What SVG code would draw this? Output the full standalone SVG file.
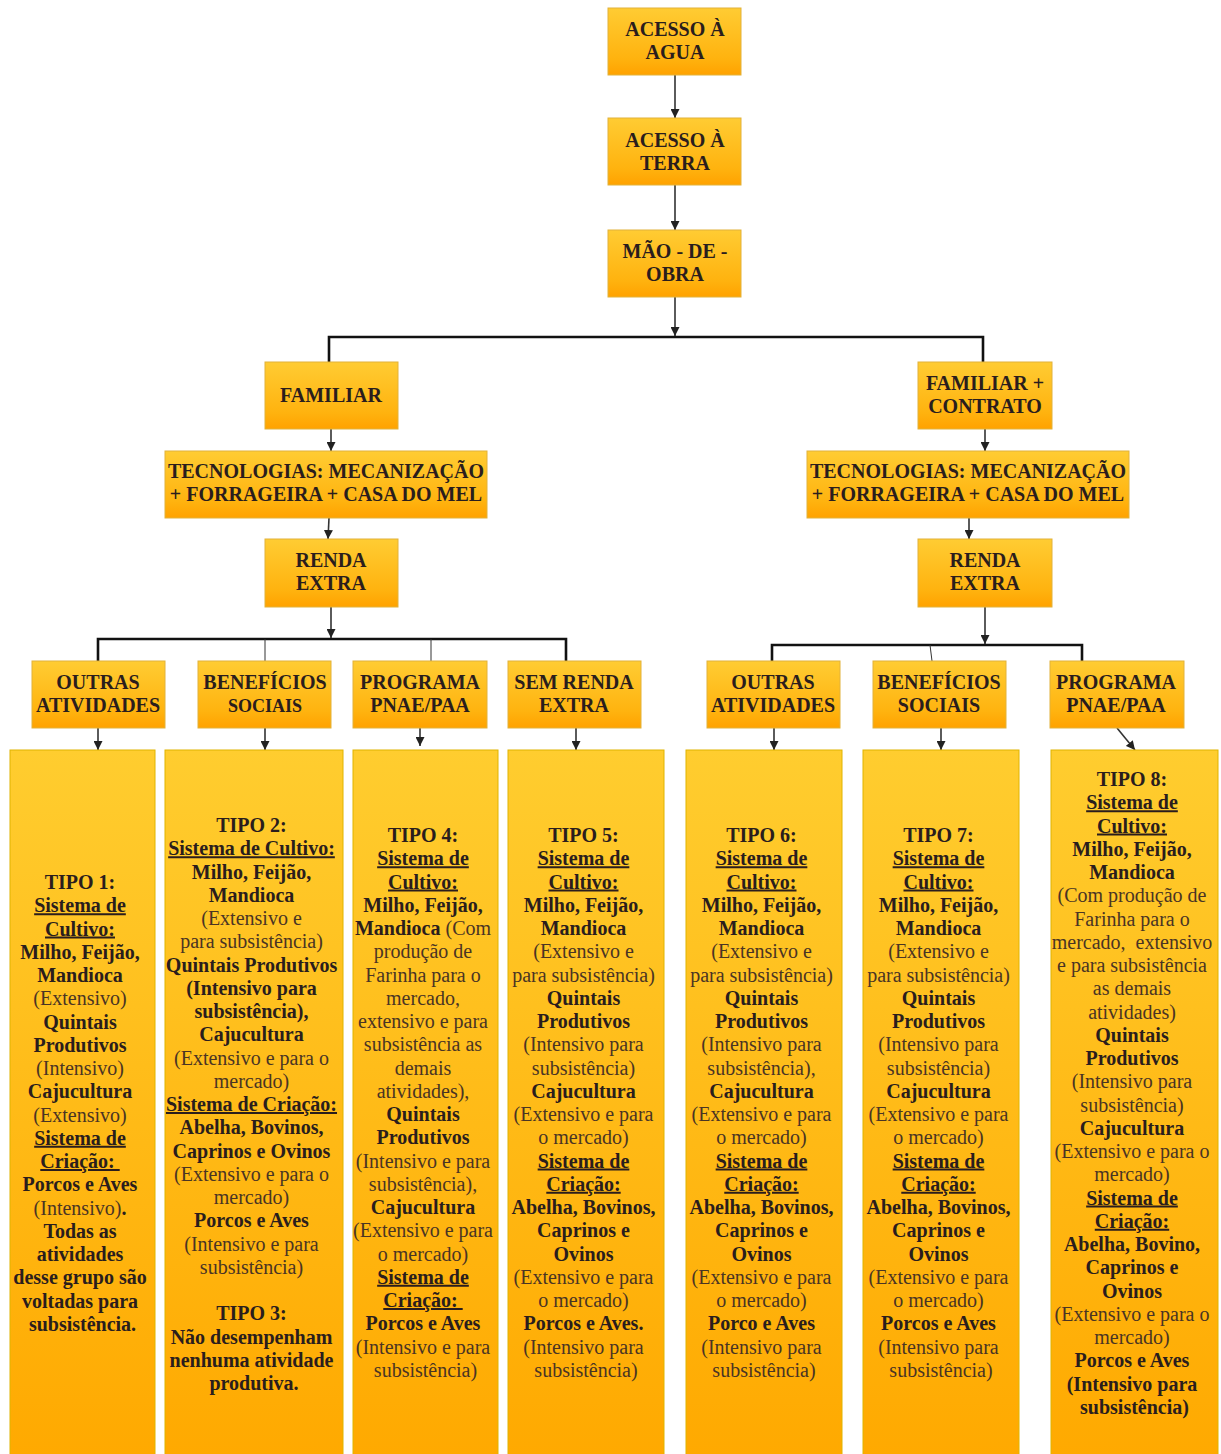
<svg xmlns="http://www.w3.org/2000/svg" width="1221" height="1454" viewBox="0 0 1221 1454" font-family="Liberation Serif, DejaVu Serif, serif">
<defs>
<linearGradient id="gBox" x1="0" y1="0" x2="0" y2="1">
<stop offset="0" stop-color="#ffcc33"/>
<stop offset="0.75" stop-color="#ffb30f"/>
<stop offset="1" stop-color="#ffa200"/>
</linearGradient>
<linearGradient id="gCol" x1="0" y1="0" x2="0" y2="1">
<stop offset="0" stop-color="#ffcd2f"/>
<stop offset="1" stop-color="#ffa900"/>
</linearGradient>
<marker id="arr" viewBox="0 0 10 10" refX="10" refY="5" markerWidth="9" markerHeight="9" markerUnits="userSpaceOnUse" orient="auto">
<path d="M0,0 L10,5 L0,10 z" fill="#222"/>
</marker>
</defs>
<style>
.box{fill:url(#gBox);stroke:#e2b23a;stroke-width:1}
.col{fill:url(#gCol);stroke:#e0b400;stroke-width:1}
text{font-family:'Liberation Serif', serif;font-size:20px;text-anchor:middle}
.h{font-weight:bold;fill:#2a1d1d}
.t{font-weight:bold;fill:#2a1d1d}
.r{font-weight:normal;fill:#4a3424}
.u{text-decoration:underline}
.c{fill:none;stroke:#333;stroke-width:1.6}
.k{fill:none;stroke:#111;stroke-width:2.6}
.n{fill:none;stroke:#333;stroke-width:1}
</style>
<rect width="1221" height="1454" fill="#ffffff"/>

<g id="connectors">
<line class="c" x1="675" y1="75" x2="675" y2="118" marker-end="url(#arr)"/>
<line class="c" x1="675" y1="185" x2="675" y2="230" marker-end="url(#arr)"/>
<line class="c" x1="675" y1="297" x2="675" y2="336" marker-end="url(#arr)"/>
<polyline class="k" points="329,362 329,337 983,337 983,362"/>
<line class="c" x1="331" y1="429" x2="331" y2="451" marker-end="url(#arr)"/>
<line class="c" x1="329" y1="518" x2="328" y2="539" marker-end="url(#arr)"/>
<line class="c" x1="331" y1="607" x2="331" y2="638" marker-end="url(#arr)"/>
<polyline class="k" points="98,661 98,639 566,639 566,661"/>
<line class="n" x1="265" y1="639" x2="265" y2="661"/>
<line class="n" x1="431" y1="639" x2="431" y2="661"/>
<line class="c" x1="98" y1="728" x2="98" y2="750" marker-end="url(#arr)"/>
<line class="c" x1="265" y1="728" x2="265" y2="750" marker-end="url(#arr)"/>
<line class="c" x1="420" y1="728" x2="420" y2="746" marker-end="url(#arr)"/>
<line class="c" x1="576" y1="728" x2="576" y2="750" marker-end="url(#arr)"/>
<line class="c" x1="985" y1="429" x2="985" y2="451" marker-end="url(#arr)"/>
<line class="c" x1="969" y1="518" x2="969" y2="539" marker-end="url(#arr)"/>
<line class="c" x1="985" y1="607" x2="985" y2="644" marker-end="url(#arr)"/>
<polyline class="k" points="772,661 772,645 1082,645 1082,661"/>
<line class="n" x1="930" y1="645" x2="932" y2="661"/>
<line class="c" x1="774" y1="728" x2="774" y2="750" marker-end="url(#arr)"/>
<line class="c" x1="941" y1="728" x2="941" y2="750" marker-end="url(#arr)"/>
<line class="c" x1="1117" y1="728" x2="1135" y2="750" marker-end="url(#arr)"/>
</g>

<g id="n-agua"><rect class="box" x="608" y="8" width="133" height="67"/>
<text class="h" x="675" y="36">ACESSO À</text><text class="h" x="675" y="59">AGUA</text></g>
<g id="n-terra"><rect class="box" x="608" y="118" width="133" height="67"/>
<text class="h" x="675" y="147">ACESSO À</text><text class="h" x="675" y="170">TERRA</text></g>
<g id="n-mao"><rect class="box" x="608" y="230" width="133" height="67"/>
<text class="h" x="675" y="258">MÃO - DE -</text><text class="h" x="675" y="281">OBRA</text></g>

<g id="n-familiar"><rect class="box" x="265" y="362" width="133" height="67"/>
<text class="h" x="331" y="402">FAMILIAR</text></g>
<g id="n-tec1"><rect class="box" x="165" y="451" width="322" height="67"/>
<text class="h" x="326" y="478">TECNOLOGIAS: MECANIZAÇÃO</text><text class="h" x="326" y="501">+ FORRAGEIRA + CASA DO MEL</text></g>
<g id="n-renda1"><rect class="box" x="265" y="539" width="133" height="68"/>
<text class="h" x="331" y="567">RENDA</text><text class="h" x="331" y="590">EXTRA</text></g>

<g id="n-famcon"><rect class="box" x="918" y="362" width="134" height="67"/>
<text class="h" x="985" y="390">FAMILIAR +</text><text class="h" x="985" y="413">CONTRATO</text></g>
<g id="n-tec2"><rect class="box" x="807" y="451" width="322" height="67"/>
<text class="h" x="968" y="478">TECNOLOGIAS: MECANIZAÇÃO</text><text class="h" x="968" y="501">+ FORRAGEIRA + CASA DO MEL</text></g>
<g id="n-renda2"><rect class="box" x="918" y="539" width="134" height="68"/>
<text class="h" x="985" y="567">RENDA</text><text class="h" x="985" y="590">EXTRA</text></g>

<g id="n-outras1"><rect class="box" x="32" y="661" width="133" height="67"/>
<text class="h" x="98" y="689">OUTRAS</text><text class="h" x="98" y="712">ATIVIDADES</text></g>
<g id="n-benef1"><rect class="box" x="198" y="661" width="133" height="67"/>
<text class="h" x="265" y="689">BENEFÍCIOS</text><text class="h" x="265" y="712" style="font-size:18px">SOCIAIS</text></g>
<g id="n-prog1"><rect class="box" x="353" y="661" width="134" height="67"/>
<text class="h" x="420" y="689">PROGRAMA</text><text class="h" x="420" y="712">PNAE/PAA</text></g>
<g id="n-sem"><rect class="box" x="508" y="661" width="133" height="67"/>
<text class="h" x="574" y="689">SEM RENDA</text><text class="h" x="574" y="712">EXTRA</text></g>

<g id="n-outras2"><rect class="box" x="707" y="661" width="133" height="67"/>
<text class="h" x="773" y="689">OUTRAS</text><text class="h" x="773" y="712">ATIVIDADES</text></g>
<g id="n-benef2"><rect class="box" x="873" y="661" width="133" height="67"/>
<text class="h" x="939" y="689">BENEFÍCIOS</text><text class="h" x="939" y="712">SOCIAIS</text></g>
<g id="n-prog2"><rect class="box" x="1050" y="661" width="134" height="67"/>
<text class="h" x="1116" y="689">PROGRAMA</text><text class="h" x="1116" y="712">PNAE/PAA</text></g>

<g id="n-tipo1"><rect class="col" x="10" y="750" width="145" height="710"/>
<text x="82.5" y="889">
<tspan class="t" x="82.5" dy="0">TIPO 1:</tspan>
<tspan class="t u" x="82.5" dy="23.25">Sistema de</tspan>
<tspan class="t u" x="82.5" dy="23.25">Cultivo:</tspan>
<tspan class="t" x="82.5" dy="23.25">Milho, Feijão,</tspan>
<tspan class="t" x="82.5" dy="23.25">Mandioca</tspan>
<tspan class="r" x="82.5" dy="23.25">(Extensivo)</tspan>
<tspan class="t" x="82.5" dy="23.25">Quintais</tspan>
<tspan class="t" x="82.5" dy="23.25">Produtivos</tspan>
<tspan class="r" x="82.5" dy="23.25">(Intensivo)</tspan>
<tspan class="t" x="82.5" dy="23.25">Cajucultura</tspan>
<tspan class="r" x="82.5" dy="23.25">(Extensivo)</tspan>
<tspan class="t u" x="82.5" dy="23.25">Sistema de</tspan>
<tspan class="t u" x="82.5" dy="23.25">Criação:&#160;</tspan>
<tspan class="t" x="82.5" dy="23.25">Porcos e Aves</tspan>
<tspan x="82.5" dy="23.25"><tspan class="r">(Intensivo)</tspan><tspan class="t">.</tspan></tspan>
<tspan class="t" x="82.5" dy="23.25">Todas as</tspan>
<tspan class="t" x="82.5" dy="23.25">atividades</tspan>
<tspan class="t" x="82.5" dy="23.25">desse grupo são</tspan>
<tspan class="t" x="82.5" dy="23.25">voltadas para</tspan>
<tspan class="t" x="82.5" dy="23.25">subsistência.</tspan>
</text></g>

<g id="n-tipo23"><rect class="col" x="165" y="750" width="178" height="710"/>
<text x="254" y="832">
<tspan class="t" x="254" dy="0">TIPO 2:</tspan>
<tspan class="t u" x="254" dy="23.25">Sistema de Cultivo:</tspan>
<tspan class="t" x="254" dy="23.25">Milho, Feijão,</tspan>
<tspan class="t" x="254" dy="23.25">Mandioca</tspan>
<tspan class="r" x="254" dy="23.25">(Extensivo e</tspan>
<tspan class="r" x="254" dy="23.25">para subsistência)</tspan>
<tspan class="t" x="254" dy="23.25">Quintais Produtivos</tspan>
<tspan class="t" x="254" dy="23.25">(Intensivo para</tspan>
<tspan class="t" x="254" dy="23.25">subsistência),</tspan>
<tspan class="t" x="254" dy="23.25">Cajucultura</tspan>
<tspan class="r" x="254" dy="23.25">(Extensivo e para o</tspan>
<tspan class="r" x="254" dy="23.25">mercado)</tspan>
<tspan class="t u" x="254" dy="23.25">Sistema de Criação:</tspan>
<tspan class="t" x="254" dy="23.25">Abelha, Bovinos,</tspan>
<tspan class="t" x="254" dy="23.25">Caprinos e Ovinos</tspan>
<tspan class="r" x="254" dy="23.25">(Extensivo e para o</tspan>
<tspan class="r" x="254" dy="23.25">mercado)</tspan>
<tspan class="t" x="254" dy="23.25">Porcos e Aves</tspan>
<tspan class="r" x="254" dy="23.25">(Intensivo e para</tspan>
<tspan class="r" x="254" dy="23.25">subsistência)</tspan>
<tspan class="t" x="254" dy="46.5">TIPO 3:</tspan>
<tspan class="t" x="254" dy="23.25">Não desempenham</tspan>
<tspan class="t" x="254" dy="23.25">nenhuma atividade</tspan>
<tspan class="t" x="254" dy="23.25">produtiva.</tspan>
</text></g>

<g id="n-tipo4"><rect class="col" x="353" y="750" width="145" height="710"/>
<text x="425.5" y="842">
<tspan class="t" x="425.5" dy="0">TIPO 4:</tspan>
<tspan class="t u" x="425.5" dy="23.25">Sistema de</tspan>
<tspan class="t u" x="425.5" dy="23.25">Cultivo:</tspan>
<tspan class="t" x="425.5" dy="23.25">Milho, Feijão,</tspan>
<tspan x="425.5" dy="23.25"><tspan class="t">Mandioca</tspan><tspan class="r"> (Com</tspan></tspan>
<tspan class="r" x="425.5" dy="23.25">produção de</tspan>
<tspan class="r" x="425.5" dy="23.25">Farinha para o</tspan>
<tspan class="r" x="425.5" dy="23.25">mercado,</tspan>
<tspan class="r" x="425.5" dy="23.25">extensivo e para</tspan>
<tspan class="r" x="425.5" dy="23.25">subsistência as</tspan>
<tspan class="r" x="425.5" dy="23.25">demais</tspan>
<tspan class="r" x="425.5" dy="23.25">atividades),</tspan>
<tspan class="t" x="425.5" dy="23.25">Quintais</tspan>
<tspan class="t" x="425.5" dy="23.25">Produtivos</tspan>
<tspan class="r" x="425.5" dy="23.25">(Intensivo e para</tspan>
<tspan class="r" x="425.5" dy="23.25">subsistência),</tspan>
<tspan class="t" x="425.5" dy="23.25">Cajucultura</tspan>
<tspan class="r" x="425.5" dy="23.25">(Extensivo e para</tspan>
<tspan class="r" x="425.5" dy="23.25">o mercado)</tspan>
<tspan class="t u" x="425.5" dy="23.25">Sistema de</tspan>
<tspan class="t u" x="425.5" dy="23.25">Criação:&#160;</tspan>
<tspan class="t" x="425.5" dy="23.25">Porcos e Aves</tspan>
<tspan class="r" x="425.5" dy="23.25">(Intensivo e para</tspan>
<tspan class="r" x="425.5" dy="23.25">subsistência)</tspan>
</text></g>

<g id="n-tipo5"><rect class="col" x="508" y="750" width="156" height="710"/>
<text x="586" y="842">
<tspan class="t" x="586" dy="0">TIPO 5:</tspan>
<tspan class="t u" x="586" dy="23.25">Sistema de</tspan>
<tspan class="t u" x="586" dy="23.25">Cultivo:</tspan>
<tspan class="t" x="586" dy="23.25">Milho, Feijão,</tspan>
<tspan class="t" x="586" dy="23.25">Mandioca</tspan>
<tspan class="r" x="586" dy="23.25">(Extensivo e</tspan>
<tspan class="r" x="586" dy="23.25">para subsistência)</tspan>
<tspan class="t" x="586" dy="23.25">Quintais</tspan>
<tspan class="t" x="586" dy="23.25">Produtivos</tspan>
<tspan class="r" x="586" dy="23.25">(Intensivo para</tspan>
<tspan class="r" x="586" dy="23.25">subsistência)</tspan>
<tspan class="t" x="586" dy="23.25">Cajucultura</tspan>
<tspan class="r" x="586" dy="23.25">(Extensivo e para</tspan>
<tspan class="r" x="586" dy="23.25">o mercado)</tspan>
<tspan class="t u" x="586" dy="23.25">Sistema de</tspan>
<tspan class="t u" x="586" dy="23.25">Criação:</tspan>
<tspan class="t" x="586" dy="23.25">Abelha, Bovinos,</tspan>
<tspan class="t" x="586" dy="23.25">Caprinos e</tspan>
<tspan class="t" x="586" dy="23.25">Ovinos</tspan>
<tspan class="r" x="586" dy="23.25">(Extensivo e para</tspan>
<tspan class="r" x="586" dy="23.25">o mercado)</tspan>
<tspan class="t" x="586" dy="23.25">Porcos e Aves.</tspan>
<tspan class="r" x="586" dy="23.25">(Intensivo para</tspan>
<tspan class="r" x="586" dy="23.25">subsistência)</tspan>
</text></g>

<g id="n-tipo6"><rect class="col" x="686" y="750" width="156" height="710"/>
<text x="764" y="842">
<tspan class="t" x="764" dy="0">TIPO 6:</tspan>
<tspan class="t u" x="764" dy="23.25">Sistema de</tspan>
<tspan class="t u" x="764" dy="23.25">Cultivo:</tspan>
<tspan class="t" x="764" dy="23.25">Milho, Feijão,</tspan>
<tspan class="t" x="764" dy="23.25">Mandioca</tspan>
<tspan class="r" x="764" dy="23.25">(Extensivo e</tspan>
<tspan class="r" x="764" dy="23.25">para subsistência)</tspan>
<tspan class="t" x="764" dy="23.25">Quintais</tspan>
<tspan class="t" x="764" dy="23.25">Produtivos</tspan>
<tspan class="r" x="764" dy="23.25">(Intensivo para</tspan>
<tspan class="r" x="764" dy="23.25">subsistência),</tspan>
<tspan class="t" x="764" dy="23.25">Cajucultura</tspan>
<tspan class="r" x="764" dy="23.25">(Extensivo e para</tspan>
<tspan class="r" x="764" dy="23.25">o mercado)</tspan>
<tspan class="t u" x="764" dy="23.25">Sistema de</tspan>
<tspan class="t u" x="764" dy="23.25">Criação:</tspan>
<tspan class="t" x="764" dy="23.25">Abelha, Bovinos,</tspan>
<tspan class="t" x="764" dy="23.25">Caprinos e</tspan>
<tspan class="t" x="764" dy="23.25">Ovinos</tspan>
<tspan class="r" x="764" dy="23.25">(Extensivo e para</tspan>
<tspan class="r" x="764" dy="23.25">o mercado)</tspan>
<tspan class="t" x="764" dy="23.25">Porco e Aves</tspan>
<tspan class="r" x="764" dy="23.25">(Intensivo para</tspan>
<tspan class="r" x="764" dy="23.25">subsistência)</tspan>
</text></g>

<g id="n-tipo7"><rect class="col" x="863" y="750" width="156" height="710"/>
<text x="941" y="842">
<tspan class="t" x="941" dy="0">TIPO 7:</tspan>
<tspan class="t u" x="941" dy="23.25">Sistema de</tspan>
<tspan class="t u" x="941" dy="23.25">Cultivo:</tspan>
<tspan class="t" x="941" dy="23.25">Milho, Feijão,</tspan>
<tspan class="t" x="941" dy="23.25">Mandioca</tspan>
<tspan class="r" x="941" dy="23.25">(Extensivo e</tspan>
<tspan class="r" x="941" dy="23.25">para subsistência)</tspan>
<tspan class="t" x="941" dy="23.25">Quintais</tspan>
<tspan class="t" x="941" dy="23.25">Produtivos</tspan>
<tspan class="r" x="941" dy="23.25">(Intensivo para</tspan>
<tspan class="r" x="941" dy="23.25">subsistência)</tspan>
<tspan class="t" x="941" dy="23.25">Cajucultura</tspan>
<tspan class="r" x="941" dy="23.25">(Extensivo e para</tspan>
<tspan class="r" x="941" dy="23.25">o mercado)</tspan>
<tspan class="t u" x="941" dy="23.25">Sistema de</tspan>
<tspan class="t u" x="941" dy="23.25">Criação:</tspan>
<tspan class="t" x="941" dy="23.25">Abelha, Bovinos,</tspan>
<tspan class="t" x="941" dy="23.25">Caprinos e</tspan>
<tspan class="t" x="941" dy="23.25">Ovinos</tspan>
<tspan class="r" x="941" dy="23.25">(Extensivo e para</tspan>
<tspan class="r" x="941" dy="23.25">o mercado)</tspan>
<tspan class="t" x="941" dy="23.25">Porcos e Aves</tspan>
<tspan class="r" x="941" dy="23.25">(Intensivo para</tspan>
<tspan class="r" x="941" dy="23.25">subsistência)</tspan>
</text></g>

<g id="n-tipo8"><rect class="col" x="1051" y="750" width="167" height="710"/>
<text x="1134.5" y="786">
<tspan class="t" x="1134.5" dy="0">TIPO 8:</tspan>
<tspan class="t u" x="1134.5" dy="23.25">Sistema de</tspan>
<tspan class="t u" x="1134.5" dy="23.25">Cultivo:</tspan>
<tspan class="t" x="1134.5" dy="23.25">Milho, Feijão,</tspan>
<tspan class="t" x="1134.5" dy="23.25">Mandioca</tspan>
<tspan class="r" x="1134.5" dy="23.25">(Com produção de</tspan>
<tspan class="r" x="1134.5" dy="23.25">Farinha para o</tspan>
<tspan class="r" x="1134.5" dy="23.25">mercado,&#160; extensivo</tspan>
<tspan class="r" x="1134.5" dy="23.25">e para subsistência</tspan>
<tspan class="r" x="1134.5" dy="23.25">as demais</tspan>
<tspan class="r" x="1134.5" dy="23.25">atividades)</tspan>
<tspan class="t" x="1134.5" dy="23.25">Quintais</tspan>
<tspan class="t" x="1134.5" dy="23.25">Produtivos</tspan>
<tspan class="r" x="1134.5" dy="23.25">(Intensivo para</tspan>
<tspan class="r" x="1134.5" dy="23.25">subsistência)</tspan>
<tspan class="t" x="1134.5" dy="23.25">Cajucultura</tspan>
<tspan class="r" x="1134.5" dy="23.25">(Extensivo e para o</tspan>
<tspan class="r" x="1134.5" dy="23.25">mercado)</tspan>
<tspan class="t u" x="1134.5" dy="23.25">Sistema de</tspan>
<tspan class="t u" x="1134.5" dy="23.25">Criação:</tspan>
<tspan class="t" x="1134.5" dy="23.25">Abelha, Bovino,</tspan>
<tspan class="t" x="1134.5" dy="23.25">Caprinos e</tspan>
<tspan class="t" x="1134.5" dy="23.25">Ovinos</tspan>
<tspan class="r" x="1134.5" dy="23.25">(Extensivo e para o</tspan>
<tspan class="r" x="1134.5" dy="23.25">mercado)</tspan>
<tspan class="t" x="1134.5" dy="23.25">Porcos e Aves</tspan>
<tspan class="t" x="1134.5" dy="23.25">(Intensivo para</tspan>
<tspan class="t" x="1134.5" dy="23.25">subsistência)</tspan>
</text></g>
</svg>
